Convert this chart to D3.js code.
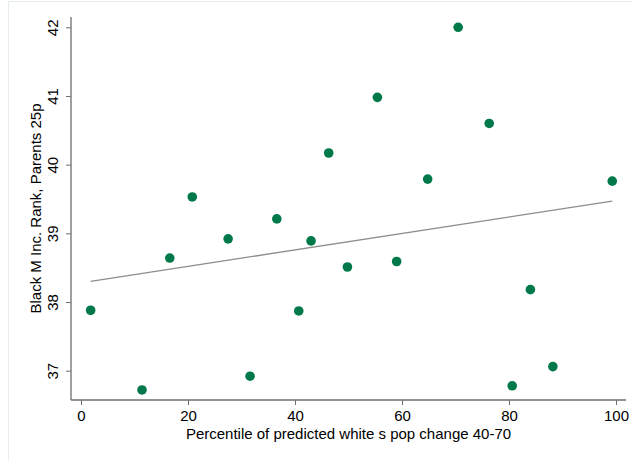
<!DOCTYPE html>
<html>
<head>
<meta charset="utf-8">
<script src="https://cdn.jsdelivr.net/npm/d3@7"></script>
<style>
body { margin: 0; background: #fff; }
text { font-family: "Liberation Sans", Arial, Helvetica, sans-serif; fill: #000; }
</style>
</head>
<body>
<div id="chart"></div>
<script>
// percentile of predicted white pop change (x) vs black male income rank (y)
var pctile = [1.8, 11.4, 16.6, 20.8, 27.5, 31.6, 36.6, 40.7, 43.0, 46.3,
	49.8, 55.4, 59.0, 64.8, 70.5, 76.3, 80.6, 84.0, 88.2, 99.3];
var rank = [37.88, 36.72, 38.64, 39.53, 38.92, 36.92, 39.21, 37.87, 38.89, 40.17,
	38.51, 40.98, 38.59, 39.79, 42.00, 40.60, 36.78, 38.18, 37.06, 39.76];
// linear fit, end points
var fitX = [1.8, 99.3];
var fitY = [38.30, 39.47];
var xTicks = [0, 20, 40, 60, 80, 100];
var yTicks = [37, 38, 39, 40, 41, 42];

var w = 633, h = 461;
var pLeft = 71, pRight = 626, pTop = 17, pBottom = 400;
var fs = 15;

var svg = d3.select("#chart").append("svg")
	.attr("width", w)
	.attr("height", h);

// faint outer frame
svg.append("rect")
	.attr("x", 8.5).attr("y", 1.5)
	.attr("width", w + 10).attr("height", h + 10)
	.attr("fill", "none")
	.attr("stroke", "#e6eef0");

var x = d3.scaleLinear().domain([0, 100]).range([81, 616]);
var y = d3.scaleLinear().domain([37, 42]).range([370.7, 27.3]);

// axes
var xAxis = svg.append("g")
	.attr("transform", "translate(0," + pBottom + ")")
	.call(d3.axisBottom(x).tickValues(xTicks).tickSize(5).tickPadding(5).tickFormat(d3.format("d")));
xAxis.select(".domain").remove();
xAxis.selectAll("line").attr("stroke", "#6e6e6e");
xAxis.selectAll("text").attr("font-size", fs).attr("font-family", null);

var yAxis = svg.append("g")
	.attr("transform", "translate(" + pLeft + ",0)")
	.call(d3.axisLeft(y).tickValues(yTicks).tickSize(5).tickFormat(d3.format("d")));
yAxis.select(".domain").remove();
yAxis.selectAll("line").attr("stroke", "#6e6e6e");
yAxis.selectAll("text")
	.attr("font-size", fs).attr("font-family", null)
	.attr("x", null).attr("dy", null)
	.attr("text-anchor", "middle")
	.attr("transform", "translate(-13,0) rotate(-90)");

svg.append("line")
	.attr("x1", pLeft).attr("x2", pRight)
	.attr("y1", pBottom).attr("y2", pBottom)
	.attr("stroke", "#6e6e6e").attr("stroke-width", 1.3);
svg.append("line")
	.attr("x1", pLeft).attr("x2", pLeft)
	.attr("y1", pTop).attr("y2", pBottom)
	.attr("stroke", "#6e6e6e").attr("stroke-width", 1.3);

// axis titles
svg.append("text")
	.attr("x", (pLeft + pRight) / 2).attr("y", 439)
	.attr("text-anchor", "middle")
	.attr("font-size", fs)
	.text("Percentile of predicted white s pop change 40-70");
svg.append("text")
	.attr("transform", "translate(41," + ((pTop + pBottom) / 2) + ") rotate(-90)")
	.attr("text-anchor", "middle")
	.attr("font-size", fs)
	.text("Black M Inc. Rank, Parents 25p");

// fit line
svg.append("line")
	.attr("x1", x(fitX[0])).attr("y1", y(fitY[0]))
	.attr("x2", x(fitX[1])).attr("y2", y(fitY[1]))
	.attr("stroke", "#8c8c8c")
	.attr("stroke-width", 1.3);

// points
svg.selectAll(".dot")
	.data(pctile)
	.enter().append("circle")
	.attr("class", "dot")
	.attr("cx", function (d) { return x(d); })
	.attr("cy", function (d, i) { return y(rank[i]); })
	.attr("r", 4.8)
	.style("fill", "#00794a");
</script>
</body>
</html>
